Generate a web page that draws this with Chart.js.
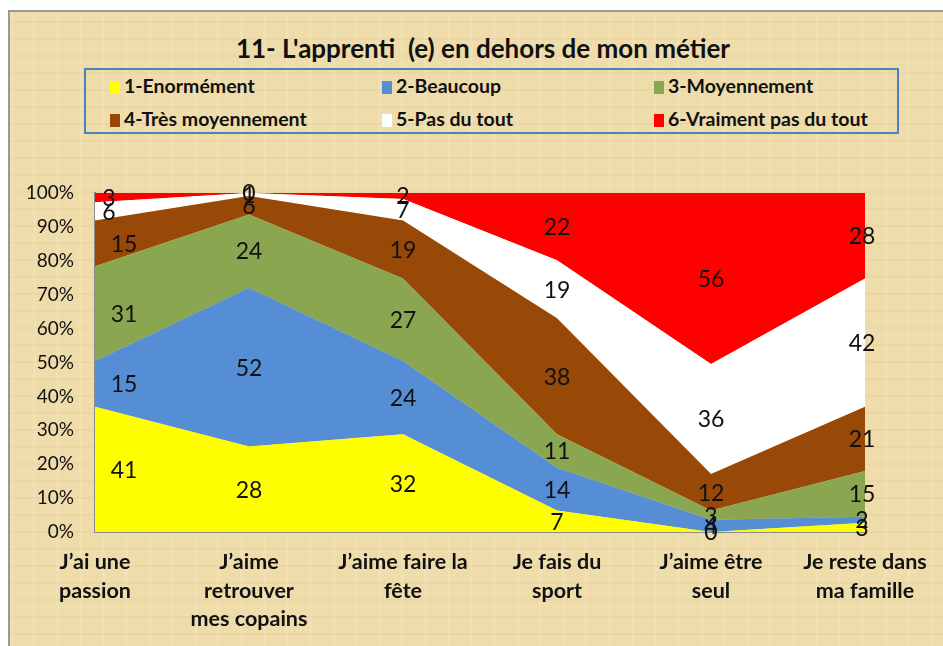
<!DOCTYPE html>
<html>
<head>
<meta charset="utf-8">
<script src="https://cdn.jsdelivr.net/npm/chart.js@4.4.1/dist/chart.umd.min.js"></script>
<style>
  html, body { margin: 0; padding: 0; background: #fff; }
  body { width: 943px; height: 646px; position: relative; overflow: hidden; font-family: Lato, "Liberation Sans", sans-serif; }
  #frame {
    position: absolute; left: 8px; top: 10px; width: 940px; height: 640px;
    border: 2px solid #9a9a9a;
    background: #efdcab;
    background-image:
      repeating-linear-gradient(90deg, rgba(255,255,255,0.10) 0 3px, rgba(0,0,0,0) 3px 23px),
      repeating-linear-gradient(0deg, rgba(150,110,50,0.05) 0 2px, rgba(0,0,0,0) 2px 17px);
  }
  #title {
    position: absolute; left: 0; width: 966px; top: 32px; text-align: center;
    font-weight: bold; font-size: 26px; color: #111;
  }
  #legend {
    position: absolute; left: 84px; top: 68px; width: 815px; height: 66px;
    border: 2px solid #4f81bd; box-sizing: border-box;
  }
  .item { position: absolute; font-weight: bold; font-size: 19.5px; color: #111; line-height: 22px; white-space: nowrap; }
  .sw { display: inline-block; width: 10px; height: 13px; margin-right: 4px; vertical-align: -1px; }
  canvas { position: absolute; left: 0; top: 0; }
</style>
</head>
<body>
<div id="frame"></div>
<div id="title">11- L'apprenti&nbsp; (e) en dehors de mon métier</div>
<div id="legend"></div>
<canvas id="chart" width="943" height="646"></canvas>
<script>
const categories = [
    ['J’ai une', 'passion'],
    ['J’aime', 'retrouver', 'mes copains'],
    ['J’aime faire la', 'fête'],
    ['Je fais du', 'sport'],
    ['J’aime être', 'seul'],
    ['Je reste dans', 'ma famille']
];

const seriesNames = ['1-Enormément', '2-Beaucoup', '3-Moyennement', '4-Très moyennement', '5-Pas du tout', '6-Vraiment pas du tout'];
const seriesColors = ['#ffff00', '#558ed5', '#8aa650', '#984807', '#ffffff', '#ff0000'];

const enormement = [41, 28, 32, 7, 0, 3];
const beaucoup = [15, 52, 24, 14, 4, 2];
const moyennement = [31, 24, 27, 11, 3, 15];
const tresMoyennement = [15, 6, 19, 38, 12, 21];
const pasDuTout = [6, 1, 7, 19, 36, 42];
const vraimentPas = [3, 0, 2, 22, 56, 28];

const yTicks = [0, 10, 20, 30, 40, 50, 60, 70, 80, 90, 100];

const series = [enormement, beaucoup, moyennement, tresMoyennement, pasDuTout, vraimentPas];

// totals per category, to show as 100% stacked
const totals = categories.map((c, j) => series.reduce((s, arr) => s + arr[j], 0));

// legend (3 columns x 2 rows)
const legendEl = document.getElementById('legend');
const colX = [24, 296, 568];
const rowY = [5, 38];
seriesNames.forEach((name, i) => {
    const d = document.createElement('div');
    d.className = 'item';
    d.style.left = colX[i % 3] + 'px';
    d.style.top = rowY[Math.floor(i / 3)] + 'px';
    d.innerHTML = '<span class="sw" style="background:' + seriesColors[i] + '"></span>' + name;
    legendEl.appendChild(d);
});

// values written in the middle of each band
const bandLabels = {
    id: 'bandLabels',
    afterDatasetsDraw(chart) {
        const ctx = chart.ctx;
        const x = chart.scales.x;
        const y = chart.scales.y;
        ctx.save();
        ctx.font = '23px Lato, "Liberation Sans", sans-serif';
        ctx.fillStyle = '#111';
        ctx.textAlign = 'center';
        ctx.textBaseline = 'middle';
        categories.forEach((c, j) => {
            let base = 0;
            series.forEach((arr) => {
                const pct = arr[j] / totals[j] * 100;
                const mid = base + pct / 2;
                base += pct;
                const txt = String(arr[j]);
                let px = x.getPixelForValue(j);
                if (j === 0) px += txt.length === 1 ? 14 : 29;
                if (j === categories.length - 1) px -= 3;
                ctx.fillText(txt, px, y.getPixelForValue(mid) + 1);
            });
        });
        ctx.restore();
    }
};

new Chart(document.getElementById('chart'), {
    type: 'line',
    data: {
        labels: categories,
        datasets: series.map((arr, i) => ({
            label: seriesNames[i],
            data: arr.map((v, j) => v / totals[j] * 100),
            backgroundColor: seriesColors[i],
            borderColor: seriesColors[i],
            borderWidth: 0,
            pointRadius: 0,
            tension: 0,
            fill: i === 0 ? 'origin' : '-1'
        }))
    },
    options: {
        responsive: false,
        animation: false,
        layout: { padding: { top: 193, right: 78, left: 0, bottom: 0 } },
        plugins: {
            legend: { display: false },
            tooltip: { enabled: false }
        },
        scales: {
            x: {
                offset: false,
                grid: { display: false, drawTicks: false },
                border: { display: true, color: '#8c8c8c', width: 2 },
                ticks: {
                    padding: 16,
                    maxRotation: 0,
                    autoSkip: false,
                    color: '#111',
                    font: { family: 'Lato, "Liberation Sans", sans-serif', size: 21.5, weight: 'bold', lineHeight: 1.33 }
                },
                afterFit(scale) { scale.height = 114; }
            },
            y: {
                stacked: true,
                min: 0,
                max: 100,
                afterBuildTicks(scale) { scale.ticks = yTicks.map(v => ({ value: v })); },
                grid: { display: false, drawTicks: false },
                border: { display: true, color: '#8c8c8c', width: 2 },
                ticks: {
                    padding: 21,
                    color: '#111',
                    font: { family: 'Lato, "Liberation Sans", sans-serif', size: 19 },
                    callback: v => v + '%'
                },
                afterFit(scale) { scale.width = 95; }
            }
        }
    },
    plugins: [bandLabels]
});
</script>
</body>
</html>
